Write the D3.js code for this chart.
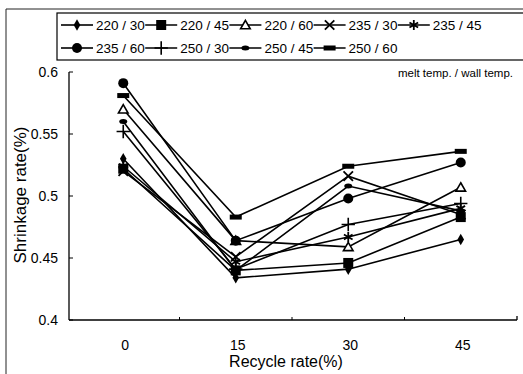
<!DOCTYPE html>
<html>
<head>
<meta charset="utf-8">
<script src="https://cdn.jsdelivr.net/npm/d3@7"></script>
<style>
body { margin: 0; background: #fff; }
text { font-family: "Liberation Sans", Arial, sans-serif; fill: #000; }
</style>
</head>
<body>
<script>
// recycle rate categories
var categories = ["0", "15", "30", "45"];
var seriesNames = ["220 / 30", "220 / 45", "220 / 60", "235 / 30", "235 / 45",
                   "235 / 60", "250 / 30", "250 / 45", "250 / 60"];
var s220_30 = [0.530, 0.434, 0.441, 0.465];
var s220_45 = [0.522, 0.440, 0.446, 0.483];
var s220_60 = [0.570, 0.464, 0.459, 0.507];
var s235_30 = [0.520, 0.451, 0.516, 0.485];
var s235_45 = [0.524, 0.447, 0.467, 0.490];
var s235_60 = [0.591, 0.464, 0.498, 0.527];
var s250_30 = [0.552, 0.441, 0.477, 0.494];
var s250_45 = [0.560, 0.440, 0.508, 0.488];
var s250_60 = [0.581, 0.483, 0.524, 0.536];
var allSeries = [s220_30, s220_45, s220_60, s235_30, s235_45, s235_60, s250_30, s250_45, s250_60];
var markers = ["diamond", "square", "triangle", "x", "asterisk", "circle", "plus", "dot", "bar"];
var yTicks = [0.4, 0.45, 0.5, 0.55, 0.6];

var svg = d3.select("body").append("svg")
            .attr("width", 523)
            .attr("height", 374);

// outer frame
svg.append("path").attr("d", "M6,374 V9 H523")
   .attr("fill", "none").attr("stroke", "#222").attr("stroke-width", 1);

var x = d3.scaleBand().domain(categories).range([67, 517]);
var y = d3.scaleLinear().domain([0.4, 0.6]).range([320, 72]);

function drawMarker(g, type, cx, cy) {
    if (type == "diamond") {
        g.append("path").attr("d", d3.symbol(d3.symbolDiamond, 38)())
         .attr("transform", "translate(" + cx + "," + cy + ")").attr("fill", "#000");
    } else if (type == "square") {
        g.append("rect").attr("x", cx - 5).attr("y", cy - 5).attr("width", 10).attr("height", 10).attr("fill", "#000");
    } else if (type == "triangle") {
        g.append("path").attr("d", d3.symbol(d3.symbolTriangle, 40)())
         .attr("transform", "translate(" + cx + "," + (cy + 1) + ")")
         .attr("fill", "#fff").attr("stroke", "#000").attr("stroke-width", 1.6);
    } else if (type == "x") {
        g.append("path").attr("d", d3.symbol(d3.symbolX, 60)())
         .attr("transform", "translate(" + cx + "," + cy + ")")
         .attr("fill", "none").attr("stroke", "#000").attr("stroke-width", 1.8);
    } else if (type == "asterisk") {
        g.append("path").attr("d", d3.symbol(d3.symbolAsterisk, 70)())
         .attr("transform", "translate(" + cx + "," + cy + ")")
         .attr("fill", "none").attr("stroke", "#000").attr("stroke-width", 1.8);
    } else if (type == "circle") {
        g.append("circle").attr("cx", cx).attr("cy", cy).attr("r", 5).attr("fill", "#000");
    } else if (type == "plus") {
        g.append("path").attr("d", d3.symbol(d3.symbolPlus, 60)())
         .attr("transform", "translate(" + cx + "," + cy + ")")
         .attr("fill", "none").attr("stroke", "#000").attr("stroke-width", 1.6);
    } else if (type == "dot") {
        g.append("ellipse").attr("cx", cx).attr("cy", cy).attr("rx", 4).attr("ry", 2.5).attr("fill", "#000");
    } else if (type == "bar") {
        g.append("rect").attr("x", cx - 6).attr("y", cy - 2.5).attr("width", 12).attr("height", 5).attr("fill", "#000");
    }
}

// axes
svg.append("line").attr("x1", 69).attr("y1", 72).attr("x2", 69).attr("y2", 320)
   .attr("stroke", "#000").attr("stroke-width", 1.3);
svg.append("line").attr("x1", 69).attr("y1", 320).attr("x2", 517).attr("y2", 320)
   .attr("stroke", "#000").attr("stroke-width", 1.3);
svg.append("line").attr("x1", 517).attr("y1", 320).attr("x2", 517).attr("y2", 316)
   .attr("stroke", "#000").attr("stroke-width", 1.3);

svg.selectAll(".ytick").data(yTicks).enter().append("line")
   .attr("x1", 69).attr("x2", 73)
   .attr("y1", function (d) { return y(d); }).attr("y2", function (d) { return y(d); })
   .attr("stroke", "#000").attr("stroke-width", 1);

svg.selectAll(".ylab").data(yTicks).enter().append("text")
   .attr("x", 58).attr("y", function (d) { return y(d) + 5; })
   .attr("text-anchor", "end").attr("font-size", 14)
   .text(function (d) { return d3.format("")(d); });

svg.selectAll(".xtick").data(categories.slice(1)).enter().append("line")
   .attr("x1", function (d) { return x(d); }).attr("x2", function (d) { return x(d); })
   .attr("y1", 320).attr("y2", 317)
   .attr("stroke", "#000").attr("stroke-width", 1);

svg.selectAll(".xlab").data(categories).enter().append("text")
   .attr("x", function (d) { return x(d) + x.bandwidth() / 2 + 2; })
   .attr("y", 350).attr("text-anchor", "middle").attr("font-size", 14)
   .text(function (d) { return d; });

svg.append("text").attr("x", 286).attr("y", 367).attr("text-anchor", "middle")
   .attr("font-size", 16).text("Recycle rate(%)");

svg.append("text").attr("transform", "translate(26,195) rotate(-90)")
   .attr("text-anchor", "middle").attr("font-size", 17).text("Shrinkage rate(%)");

svg.append("text").attr("x", 513).attr("y", 77).attr("text-anchor", "end")
   .attr("font-size", 11.5).text("melt temp. / wall temp.");

// series
var line = d3.line()
    .x(function (d, i) { return x(categories[i]) + x.bandwidth() / 2; })
    .y(function (d) { return y(d); });

allSeries.forEach(function (s, k) {
    svg.append("path").datum(s).attr("d", line)
       .attr("fill", "none").attr("stroke", "#000").attr("stroke-width", 1.6);
});
allSeries.forEach(function (s, k) {
    var g = svg.append("g");
    s.forEach(function (v, i) {
        drawMarker(g, markers[k], x(categories[i]) + x.bandwidth() / 2, y(v));
    });
});

// legend
svg.append("rect").attr("x", 57).attr("y", 13).attr("width", 480).attr("height", 47)
   .attr("fill", "#fff").attr("stroke", "#000").attr("stroke-width", 1.2);

seriesNames.forEach(function (name, k) {
    var col = k < 5 ? k : k - 5;
    var ly = k < 5 ? 25 : 48;
    var lx = 61 + col * 84.2;
    var lg = svg.append("g");
    lg.append("line").attr("x1", lx).attr("x2", lx + 32).attr("y1", ly).attr("y2", ly)
      .attr("stroke", "#000").attr("stroke-width", 1.6);
    drawMarker(lg, markers[k], lx + 16, ly);
    lg.append("text").attr("x", lx + 35).attr("y", ly + 5).attr("font-size", 13.5).text(name);
});
</script>
</body>
</html>
